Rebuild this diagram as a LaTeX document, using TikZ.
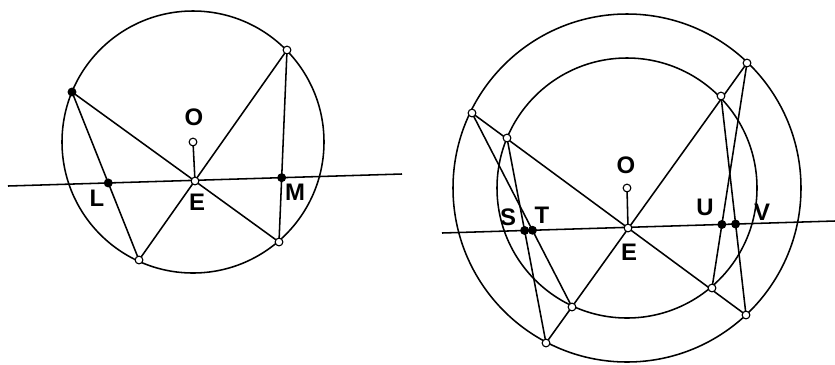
\documentclass[tikz,border=0pt]{standalone}
\usepackage{fontspec}
\setmainfont{Liberation Sans}

\begin{document}
\begin{tikzpicture}[x=0.025cm, y=-0.025cm, line width=1.1pt,
    opendot/.style={circle, draw, fill=white, inner sep=0pt, minimum size=5.5pt, line width=0.8pt},
    fulldot/.style={circle, draw, fill=black, inner sep=0pt, minimum size=5.5pt, line width=0.8pt},
    lbl/.style={font=\fontsize{17}{19}\selectfont\bfseries}]
    \useasboundingbox (0,0) rectangle (835,364);

    % left figure
    \coordinate (O1) at (193,142);
    \coordinate (E1) at (195,181);
    \coordinate (A1) at (8,186);
    \coordinate (B1) at (402,174);
    \coordinate (P1) at (72,92);
    \coordinate (P2) at (287,50);
    \coordinate (P3) at (139,260);
    \coordinate (P4) at (279,242);
    \coordinate (L) at (intersection of P1--P3 and A1--B1);
    \coordinate (M) at (intersection of P2--P4 and A1--B1);

    \draw (O1) circle[radius=131];
    \draw (A1) -- (B1);
    \draw (P1) -- (P4);
    \draw (P2) -- (P3);
    \draw (P1) -- (P3);
    \draw (P2) -- (P4);
    \draw (O1) -- (E1);

    \node[fulldot] (dP1) at (P1) {};
    \node[opendot] (dP2) at (P2) {};
    \node[opendot] (dP3) at (P3) {};
    \node[opendot] (dP4) at (P4) {};
    \node[opendot] (dO1) at (O1) {};
    \node[opendot] (dE1) at (E1) {};
    \node[fulldot] (dL) at (L) {};
    \node[fulldot] (dM) at (M) {};

    \node[lbl] (labO1) at (194,117) {O};
    \node[lbl] (labE1) at (197,202) {E};
    \node[lbl] (labL) at (97,198) {L};
    \node[lbl] (labM) at (295,192) {M};

    % right figure
    \coordinate (O2) at (627,188);
    \coordinate (E2) at (628,228);
    \coordinate (A2) at (442,233);
    \coordinate (B2) at (835,221);
    \coordinate (I1) at (507,138);
    \coordinate (I2) at (721,96);
    \coordinate (I3) at (572,307);
    \coordinate (I4) at (712,288);
    \coordinate (Q1) at (472,113);
    \coordinate (Q2) at (747,63);
    \coordinate (Q3) at (546,343);
    \coordinate (Q4) at (746,315);
    \coordinate (S) at (intersection of I1--Q3 and A2--B2);
    \coordinate (T) at (intersection of Q1--I3 and A2--B2);
    \coordinate (U) at (intersection of Q2--I4 and A2--B2);
    \coordinate (V) at (intersection of I2--Q4 and A2--B2);

    \draw (O2) circle[radius=130];
    \draw (O2) circle[radius=174];
    \draw (A2) -- (B2);
    \draw (Q1) -- (Q4);
    \draw (Q2) -- (Q3);
    \draw (Q1) -- (I3);
    \draw (I1) -- (Q3);
    \draw (Q2) -- (I4);
    \draw (I2) -- (Q4);
    \draw (O2) -- (E2);

    \foreach \p in {I1,I2,I3,I4,Q1,Q2,Q3,Q4,O2,E2}
        \node[opendot] (d\p) at (\p) {};
    \foreach \p in {S,T,U,V}
        \node[fulldot] (d\p) at (\p) {};

    \node[lbl] (labO2) at (626,165) {O};
    \node[lbl] (labE2) at (629,252) {E};
    \node[lbl] (labS) at (508,217) {S};
    \node[lbl] (labT) at (542,215) {T};
    \node[lbl] (labU) at (705,207) {U};
    \node[lbl] (labV) at (762,212) {V};
\end{tikzpicture}
\end{document}
